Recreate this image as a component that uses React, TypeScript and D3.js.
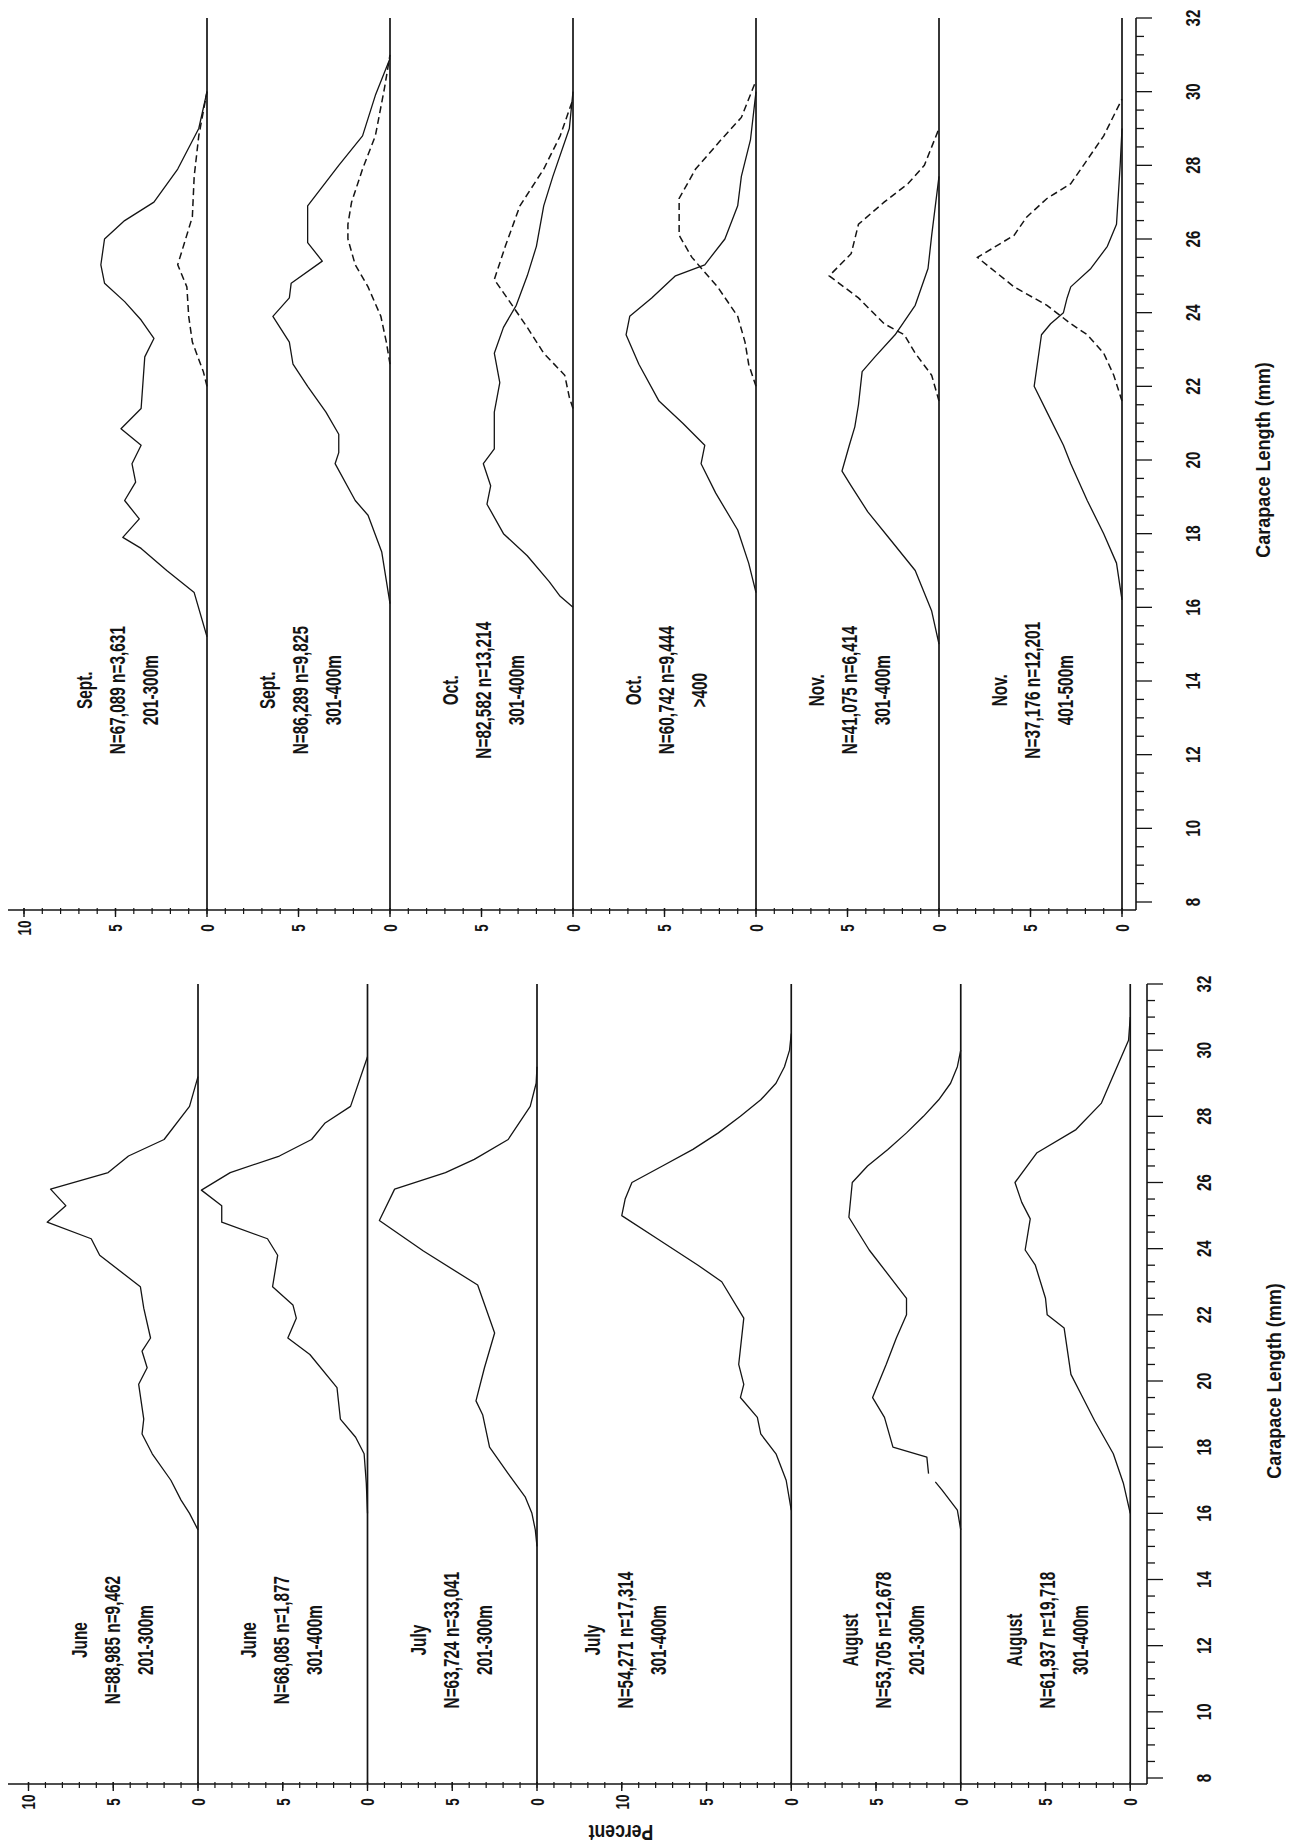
import React from 'react';
import * as d3 from 'd3';

type Pt = [number, number]; // [carapace length (mm), percent]

// ---- upper half of the page: Sept. - Nov. ----
const sept201Solid: Pt[] = [[15.2,0],[16.4,0.7],[17,2.2],[17.6,3.6],[17.9,4.6],[18.4,3.7],[18.9,4.5],[19.4,3.9],[19.9,4.1],[20.4,3.6],[20.85,4.7],[21.4,3.6],[22.8,3.4],[23.3,2.9],[23.8,3.6],[24.3,4.5],[24.8,5.6],[25.3,5.8],[26,5.6],[26.5,4.5],[27,2.9],[27.9,1.6],[29,0.45],[30,0]];
const sept201Dashed: Pt[] = [[22,0],[22.4,0.2],[23.2,0.8],[23.9,1.0],[24.7,1.1],[25.3,1.6],[26.6,0.8],[27.7,0.7],[28.8,0.45],[30,0]];

const sept301Solid: Pt[] = [[16.1,0],[17.5,0.45],[18.5,1.2],[18.9,1.9],[19.9,3.0],[20.2,2.8],[20.7,2.8],[21.3,3.5],[22,4.5],[22.6,5.3],[23.2,5.5],[23.9,6.4],[24.4,5.5],[24.8,5.4],[25.4,3.7],[25.9,4.5],[26.9,4.5],[28,2.8],[28.8,1.5],[29.9,0.8],[30.9,0]];
const sept301Dashed: Pt[] = [[22.6,0],[23.2,0.2],[23.9,0.5],[24.7,1.2],[25.3,1.9],[26,2.3],[26.4,2.3],[27,2.1],[27.9,1.5],[28.8,0.8],[30.1,0.3],[31,0]];

const oct301Solid: Pt[] = [[16,0],[16.3,0.7],[16.7,1.3],[17.4,2.5],[18,3.8],[18.8,4.7],[19.3,4.5],[19.9,4.9],[20.3,4.3],[20.9,4.3],[21.3,4.3],[22.1,4.0],[22.9,4.3],[23.6,3.8],[24.2,3.1],[25,2.5],[25.8,2.0],[26.9,1.6],[27.7,1.1],[29,0.2],[30,0]];
const oct301Dashed: Pt[] = [[21.4,0],[21.7,0.2],[22.3,0.45],[22.9,1.6],[23.6,2.5],[24.4,3.6],[24.9,4.3],[25.8,3.7],[26.9,2.9],[27.9,1.6],[28.8,0.7],[29.8,0]];

const oct400Solid: Pt[] = [[16.4,0],[17.2,0.4],[18.1,1.0],[19.1,2.2],[19.9,3.0],[20.4,2.8],[21,4.0],[21.6,5.3],[22.6,6.4],[23.4,7.1],[23.9,6.9],[24.4,5.7],[25,4.4],[25.3,2.8],[26,1.7],[26.9,1.0],[27.7,0.8],[28.7,0.3],[30,0]];
const oct400Dashed: Pt[] = [[22,0],[22.6,0.4],[23.2,0.6],[23.9,1.0],[24.7,2.1],[25.5,3.5],[26.1,4.2],[27.1,4.2],[27.9,3.3],[28.7,1.9],[29.3,0.8],[30.3,0]];

const nov301Solid: Pt[] = [[15,0],[15.9,0.4],[17,1.3],[17.8,2.6],[18.6,3.9],[19.3,4.8],[19.7,5.3],[20.4,4.9],[20.9,4.6],[21.5,4.4],[22.4,4.2],[22.8,3.5],[23.4,2.4],[24.2,1.3],[25.2,0.6],[26.1,0.4],[27.7,0]];
const nov301Dashed: Pt[] = [[21.6,0],[22.3,0.4],[22.9,1.3],[23.4,1.9],[23.7,3.0],[24.4,4.4],[25,6.0],[25.6,4.8],[26.4,4.4],[27,3.0],[27.5,1.7],[28,0.8],[29,0]];

const nov401Solid: Pt[] = [[16.2,0],[17.2,0.3],[18,1.0],[18.9,1.9],[19.9,2.8],[20.4,3.2],[21.3,4.1],[22,4.8],[23.4,4.4],[23.7,3.9],[24,3.2],[24.4,3.0],[24.7,2.8],[25.2,1.7],[25.8,0.8],[26.4,0.3],[28,0.1],[29,0]];
const nov401Dashed: Pt[] = [[21.6,0],[22.3,0.45],[22.9,1.0],[23.4,1.9],[23.7,2.8],[24.2,4.1],[24.7,5.9],[25.5,7.9],[26.1,5.9],[26.6,5.2],[27.1,4.1],[27.5,2.8],[28.8,1.0],[29.8,0]];

// ---- lower half: June - August ----
const june201Solid: Pt[] = [[15.5,0],[16,0.5],[16.4,1.0],[17,1.6],[17.8,2.7],[18.4,3.3],[18.85,3.2],[19.9,3.5],[20.4,3.0],[20.9,3.3],[21.3,2.8],[22.2,3.2],[22.85,3.4],[23.8,5.8],[24.3,6.3],[24.8,8.9],[25.3,7.8],[25.8,8.7],[26.3,5.3],[26.8,4.1],[27.3,2.0],[28.3,0.5],[29.2,0]];
const june301Solid: Pt[] = [[16,0],[16.9,0.07],[17.8,0.2],[18.3,0.7],[18.85,1.6],[19.8,1.8],[20.8,3.4],[21.3,4.7],[21.9,4.2],[22.3,4.4],[22.85,5.6],[23.8,5.3],[24.3,5.9],[24.8,8.6],[25.3,8.6],[25.77,9.8],[26.3,8.1],[26.8,5.2],[27.3,3.3],[27.8,2.5],[28.3,1.0],[29.8,0]];
const july201Solid: Pt[] = [[15,0],[15.5,0.1],[16,0.3],[16.5,0.7],[17.2,1.7],[18,2.8],[18.97,3.2],[19.4,3.6],[20.4,3.1],[21.45,2.5],[22.9,3.5],[23.93,6.7],[24.85,9.3],[25.8,8.4],[26.3,5.4],[26.7,3.7],[27.3,1.7],[28.3,0.4],[29,0.05],[29.5,0]];
const july301Solid: Pt[] = [[16.1,0],[17,0.3],[17.8,0.9],[18.4,1.8],[18.9,2.0],[19.5,3.0],[19.9,2.8],[20.5,3.1],[21.9,2.8],[23,4.1],[23.5,5.5],[24.3,7.9],[25,10.0],[25.5,9.8],[26,9.4],[26.5,7.6],[27,5.8],[27.5,4.3],[28,3.0],[28.5,1.8],[29,0.9],[29.5,0.4],[30,0.1],[30.5,0]];
const aug201Solid: Pt[] = [[15.5,0],[16.1,0.2],[16.7,1.1],[16.95,1.5],[17.05,NaN],[17.2,1.9],[17.7,2.0],[18,4.0],[18.9,4.5],[19.5,5.2],[20.5,4.4],[21.3,3.8],[22,3.2],[22.5,3.2],[23.96,5.4],[24.95,6.6],[26,6.4],[26.5,5.5],[27,4.3],[27.5,3.2],[28,2.2],[28.5,1.3],[29,0.6],[29.5,0.2],[30,0]];
const aug301Solid: Pt[] = [[16,0],[16.9,0.4],[17.8,1.0],[18.8,2.1],[19.6,2.9],[20.2,3.5],[21.6,3.9],[22,4.9],[22.5,5.0],[23.5,5.6],[23.96,6.2],[24.9,5.9],[25.4,6.4],[26,6.8],[26.9,5.5],[27.6,3.2],[28.4,1.7],[29,1.2],[30.3,0.1],[31,0]];

const topLabels = [
  ['Sept.', 'N=67,089 n=3,631', '201-300m'],
  ['Sept.', 'N=86,289 n=9,825', '301-400m'],
  ['Oct.', 'N=82,582 n=13,214', '301-400m'],
  ['Oct.', 'N=60,742 n=9,444', '>400'],
  ['Nov.', 'N=41,075 n=6,414', '301-400m'],
  ['Nov.', 'N=37,176 n=12,201', '401-500m'],
];
const bottomLabels = [
  ['June', 'N=88,985 n=9,462', '201-300m'],
  ['June', 'N=68,085 n=1,877', '301-400m'],
  ['July', 'N=63,724 n=33,041', '201-300m'],
  ['July', 'N=54,271 n=17,314', '301-400m'],
  ['August', 'N=53,705 n=12,678', '201-300m'],
  ['August', 'N=61,937 n=19,718', '301-400m'],
];

const topSolid = [sept201Solid, sept301Solid, oct301Solid, oct400Solid, nov301Solid, nov401Solid];
const topDashed = [sept201Dashed, sept301Dashed, oct301Dashed, oct400Dashed, nov301Dashed, nov401Dashed];
const bottomSolid = [june201Solid, june301Solid, july201Solid, july301Solid, aug201Solid, aug301Solid];

const lengthLabels = d3.range(8, 33, 2);
const lengthTicks = d3.range(8, 32.01, 0.5);

// layout: each strip sits at an offset (in percent units) along the stacked percent axis
const topLayout = {
  offsets: [0, 10, 20, 30, 40, 50], labelPct: [4.9, 4.9, 4.9, 4.9, 4.9, 4.9],
  x0: 207, pxPer: 18.3, cRange: [902, 18], axisY: 910, axisX: 1136, labelLen: 13.75,
};
const bottomLayout = {
  offsets: [0, 10, 20, 35, 45, 55], labelPct: [5.1, 5.1, 5.1, 9.8, 4.6, 4.9],
  x0: 198, pxPer: 16.95, cRange: [1778, 984], axisY: 1784, axisX: 1147, labelLen: 12.17,
};

const FONT = "'Liberation Sans', Arial, sans-serif";
const INK = '#141414';

function VText({ x, y, lines, size, sx, gap = 33, rotate = -90 }) {
  return (
    <g transform={`translate(${x},${y}) rotate(${rotate})`}>
      <text transform={`scale(${sx},1)`} fontFamily={FONT} fontWeight="bold" fontSize={size}
        textAnchor="middle" dominantBaseline="central" fill={INK}>
        {lines.map((l, i) => (
          <tspan key={i} x={0} y={(i - (lines.length - 1) / 2) * gap}>{l}</tspan>
        ))}
      </text>
    </g>
  );
}

function Panel({ layout, solid, dashed, labels }) {
  const { offsets, x0, pxPer, cRange, axisY, axisX } = layout;
  const c = d3.scaleLinear().domain([8, 32]).range(cRange);
  const s = d3.scaleLinear().domain([0, 1]).range([x0, x0 + pxPer]);
  const top = c(32);

  const majors: { pos: number; label: number }[] = [];
  offsets.forEach((o, k) => {
    majors.push({ pos: o, label: 0 }, { pos: o - 5, label: 5 });
    if (k === 0 || o - offsets[k - 1] > 10) majors.push({ pos: o - 10, label: 10 });
  });
  const maxStack = Math.floor(s.invert(axisX));
  const minorTicks = d3.range(-10, maxStack + 1);

  return (
    <g>
      {/* percent axis */}
      <line x1={8} x2={axisX} y1={axisY} y2={axisY} stroke={INK} strokeWidth={1.6} />
      {minorTicks.map(t => (
        <line key={'m' + t} x1={s(t)} x2={s(t)} y1={axisY - 2} y2={axisY + 4} stroke={INK} strokeWidth={1.2} />
      ))}
      {majors.map((m, i) => (
        <g key={'M' + i}>
          <line x1={s(m.pos)} x2={s(m.pos)} y1={axisY - 2} y2={axisY + 7} stroke={INK} strokeWidth={1.4} />
          <VText x={s(m.pos)} y={axisY + 18} lines={[String(m.label)]} size={18} sx={0.75} />
        </g>
      ))}

      {/* carapace length axis */}
      <line x1={axisX} x2={axisX} y1={top} y2={axisY} stroke={INK} strokeWidth={1.6} />
      {lengthTicks.map(t => (
        <line key={'l' + t} x1={axisX} x2={axisX + (t % 2 === 0 ? 16 : 8)} y1={c(t)} y2={c(t)}
          stroke={INK} strokeWidth={1.3} />
      ))}
      {lengthLabels.map(t => (
        <VText key={'ll' + t} x={axisX + 56} y={c(t)} lines={[String(t)]} size={21} sx={0.72} />
      ))}
      <VText x={axisX + 126} y={c(20)} lines={['Carapace Length (mm)']} size={21} sx={0.86} />

      {offsets.map((o, k) => {
        const line = d3.line<Pt>()
          .defined(d => !isNaN(d[1]))
          .x(d => s(o - d[1]))
          .y(d => c(d[0]));
        return (
          <g key={k}>
            <line x1={s(o)} x2={s(o)} y1={top} y2={axisY} stroke={INK} strokeWidth={1.7} />
            <path d={line(solid[k]) || ''} fill="none" stroke={INK} strokeWidth={1.3} strokeLinejoin="round" />
            {dashed && dashed[k] && (
              <path d={line(dashed[k]) || ''} fill="none" stroke={INK} strokeWidth={1.5} strokeDasharray="7 4" />
            )}
            <VText x={s(o - layout.labelPct[k])} y={c(layout.labelLen)} lines={labels[k]} size={22} sx={0.7} />
          </g>
        );
      })}
    </g>
  );
}

export default function App() {
  return (
    <svg width={1293} height={1846} style={{ position: 'absolute', left: 0, top: 0, background: '#fff' }}>
      <rect width={1293} height={1846} fill="#fff" />
      <Panel layout={topLayout} solid={topSolid} dashed={topDashed} labels={topLabels} />
      <Panel layout={bottomLayout} solid={bottomSolid} dashed={null} labels={bottomLabels} />
      <VText x={621} y={1833} lines={['Percent']} size={22} sx={0.8} rotate={180} />
    </svg>
  );
}
